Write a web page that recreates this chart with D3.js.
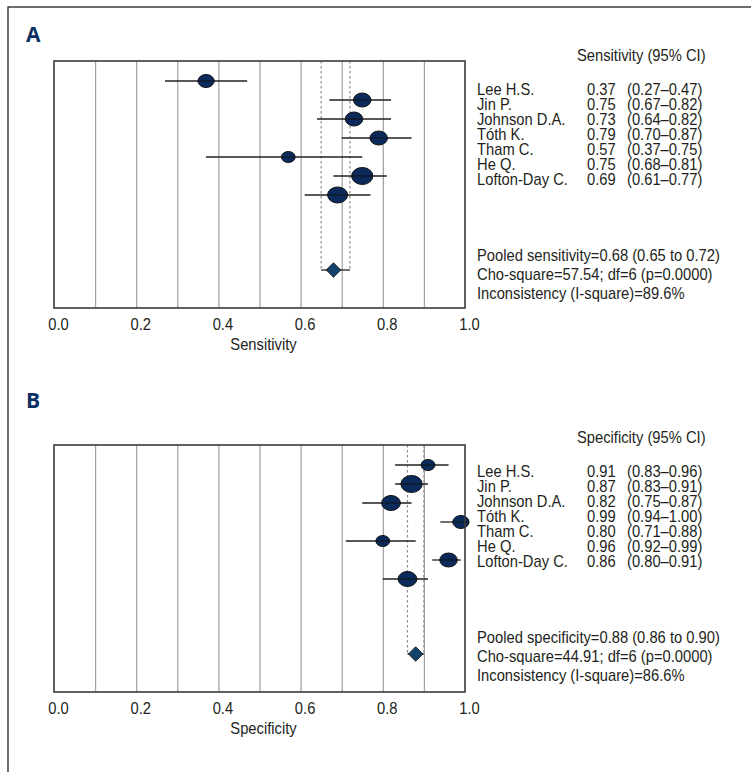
<!DOCTYPE html>
<meta charset="utf-8">
<script src="https://d3js.org/d3.v7.min.js"></script>
<style>
body { margin: 0; background: #fff; }
text { font-family: "Liberation Sans", Arial, sans-serif; fill: #231f20; }
.grid line { stroke: #a0a0a0; stroke-width: 1.2; }
.grid path { display: none; }
.ticks path { display: none; }
.ticks line { display: none; }
.cond { font-size: 16px; }
.panel-label { font-family: "Open Sans", "DejaVu Sans", sans-serif; font-weight: bold; font-size: 21px; fill: #0c2f63; }
</style>
<svg width="751" height="772"></svg>
<script>

// studies (same order in both panels)
var studies = ["Lee H.S.", "Jin P.", "Johnson D.A.", "Tóth K.", "Tham C.", "He Q.", "Lofton-Day C."];

// sensitivity
var sens    = [0.37, 0.75, 0.73, 0.79, 0.57, 0.75, 0.69];
var sensLo  = [0.27, 0.67, 0.64, 0.70, 0.37, 0.68, 0.61];
var sensHi  = [0.47, 0.82, 0.82, 0.87, 0.75, 0.81, 0.77];
var sensW   = [13.8, 16.0, 16.0, 16.0, 9.9, 23.6, 20.9];   // relative study weight
var sensPooled = [0.68, 0.65, 0.72];
var sensStats = ["Pooled sensitivity=0.68 (0.65 to 0.72)",
                 "Cho-square=57.54; df=6 (p=0.0000)",
                 "Inconsistency (I-square)=89.6%"];

// specificity
var spec    = [0.91, 0.87, 0.82, 0.99, 0.80, 0.96, 0.86];
var specLo  = [0.83, 0.83, 0.75, 0.94, 0.71, 0.92, 0.80];
var specHi  = [0.96, 0.91, 0.87, 1.00, 0.88, 0.99, 0.91];
var specW   = [9.9, 23.6, 18.4, 13.8, 9.9, 16.0, 18.4];
var specPooled = [0.88, 0.86, 0.90];
var specStats = ["Pooled specificity=0.88 (0.86 to 0.90)",
                 "Cho-square=44.91; df=6 (p=0.0000)",
                 "Inconsistency (I-square)=86.6%"];

var tickVals = [0, 0.2, 0.4, 0.6, 0.8, 1.0];
var gridVals = [0.1, 0.2, 0.3, 0.4, 0.5, 0.6, 0.7, 0.8, 0.9];

var svg = d3.select("svg");

// squeeze factor to mimic the condensed face of the original
var probe = svg.append("text").attr("class", "cond").text(sensStats[0]);
var k = 243 / probe.node().getComputedTextLength();
probe.remove();

function ctext(parent, x, y, str, anchor) {
  return parent.append("text")
    .attr("class", "cond")
    .attr("transform", "translate(" + x + "," + y + ") scale(" + k + ",1)")
    .attr("text-anchor", anchor || "start")
    .text(str);
}

// figure frame (only top/left edges fall inside the picture)
svg.append("rect")
  .attr("x", 8).attr("y", 7)
  .attr("width", 800).attr("height", 800)
  .attr("fill", "none")
  .attr("stroke", "#231f20")
  .attr("stroke-width", 1.3);

var boxW = 411, boxH = 247;
var x = d3.scaleLinear().domain([0, 1]).range([0, boxW]);
var row = d3.scaleLinear().domain([0, 1]).range([20, 39]);
var rad = d3.scaleSqrt().domain([0, 1]).range([0, 1.75]);

function panel(opt) {
  var g = svg.append("g").attr("transform", "translate(54," + opt.top + ")");

  svg.append("text")
    .attr("class", "panel-label")
    .attr("x", 26).attr("y", opt.labelY)
    .text(opt.label);

  // vertical gridlines
  g.append("g")
    .attr("class", "grid")
    .attr("transform", "translate(0," + boxH + ")")
    .call(d3.axisBottom(x).tickValues(gridVals).tickSize(-boxH).tickFormat(""));

  // pooled CI dashed lines
  g.selectAll(".pool-ci")
    .data(opt.pooled.slice(1))
    .enter().append("line")
      .attr("x1", function(d) { return x(d); })
      .attr("x2", function(d) { return x(d); })
      .attr("y1", 0)
      .attr("y2", 209)
      .attr("stroke", "#8c8c8c")
      .attr("stroke-width", 1.2)
      .attr("stroke-dasharray", "2.5,2.5");

  var data = studies.map(function(s, i) {
    return {name: s, v: opt.vals[i], lo: opt.lo[i], hi: opt.hi[i], w: opt.w[i], i: i};
  });

  // CI whiskers
  g.selectAll(".ci")
    .data(data)
    .enter().append("line")
      .attr("x1", function(d) { return x(d.lo); })
      .attr("x2", function(d) { return x(d.hi); })
      .attr("y1", function(d) { return row(d.i); })
      .attr("y2", function(d) { return row(d.i); })
      .attr("stroke", "#231f20")
      .attr("stroke-width", 1.3);

  g.selectAll(".pt")
    .data(data)
    .enter().append("ellipse")
      .attr("cx", function(d) { return x(d.v); })
      .attr("cy", function(d) { return row(d.i); })
      .attr("rx", function(d) { return rad(d.w) * 1.25; })
      .attr("ry", function(d) { return rad(d.w); })
      .attr("fill", "#0b2a5c")
      .attr("stroke", "#111")
      .attr("stroke-width", 1);

  // line through centre of each marker
  g.selectAll(".ci2")
    .data(data)
    .enter().append("line")
      .attr("x1", function(d) { return x(d.v) - rad(d.w) * 1.25; })
      .attr("x2", function(d) { return x(d.v) + rad(d.w) * 1.25; })
      .attr("y1", function(d) { return row(d.i); })
      .attr("y2", function(d) { return row(d.i); })
      .attr("stroke", "#111")
      .attr("stroke-width", 1);

  // pooled estimate
  var py = 209;
  g.append("line")
    .attr("x1", x(opt.pooled[1])).attr("x2", x(opt.pooled[2]))
    .attr("y1", py).attr("y2", py)
    .attr("stroke", "#231f20").attr("stroke-width", 1.3);
  g.append("path")
    .attr("d", d3.symbol().type(d3.symbolSquare).size(105))
    .attr("transform", "translate(" + x(opt.pooled[0]) + "," + py + ") rotate(45)")
    .attr("fill", "#13436b")
    .attr("stroke", "#111")
    .attr("stroke-width", 0.8);

  // box
  g.append("rect")
    .attr("width", boxW).attr("height", boxH)
    .attr("fill", "none")
    .attr("stroke", "#3a3a3a")
    .attr("stroke-width", 1.6);

  // x axis
  var ax = g.append("g")
    .attr("class", "ticks")
    .attr("transform", "translate(0," + boxH + ")")
    .call(d3.axisBottom(x).tickValues(tickVals).tickSize(0).tickFormat(d3.format(".1f")));
  ax.attr("font-family", null).attr("font-size", null);
  ax.selectAll("text")
    .attr("class", "cond")
    .attr("y", 0).attr("dy", 0)
    .attr("fill", "#231f20")
    .attr("transform", "translate(4,22) scale(" + k + ",1)");

  ctext(g, x(0.5) + 4, boxH + 42, opt.axisTitle, "middle");

  // right-hand table
  var t = svg.append("g");
  var r0 = opt.rowsY;
  ctext(t, 577, r0 - 34, opt.header);
  data.forEach(function(d) {
    var yy = r0 + d.i * 15;
    ctext(t, 477, yy, d.name);
    ctext(t, 587, yy, d3.format(".2f")(d.v));
    ctext(t, 627, yy, "(" + d3.format(".2f")(d.lo) + "\u2013" + d3.format(".2f")(d.hi) + ")");
  });
  opt.stats.forEach(function(s, i) {
    ctext(t, 477, r0 + 166 + i * 19, s);
  });
}

panel({label: "A", top: 61, labelY: 42, rowsY: 95,
       vals: sens, lo: sensLo, hi: sensHi, w: sensW, pooled: sensPooled, stats: sensStats,
       header: "Sensitivity (95% CI)", axisTitle: "Sensitivity"});
panel({label: "B", top: 445, labelY: 408, rowsY: 477,
       vals: spec, lo: specLo, hi: specHi, w: specW, pooled: specPooled, stats: specStats,
       header: "Specificity (95% CI)", axisTitle: "Specificity"});

</script>
